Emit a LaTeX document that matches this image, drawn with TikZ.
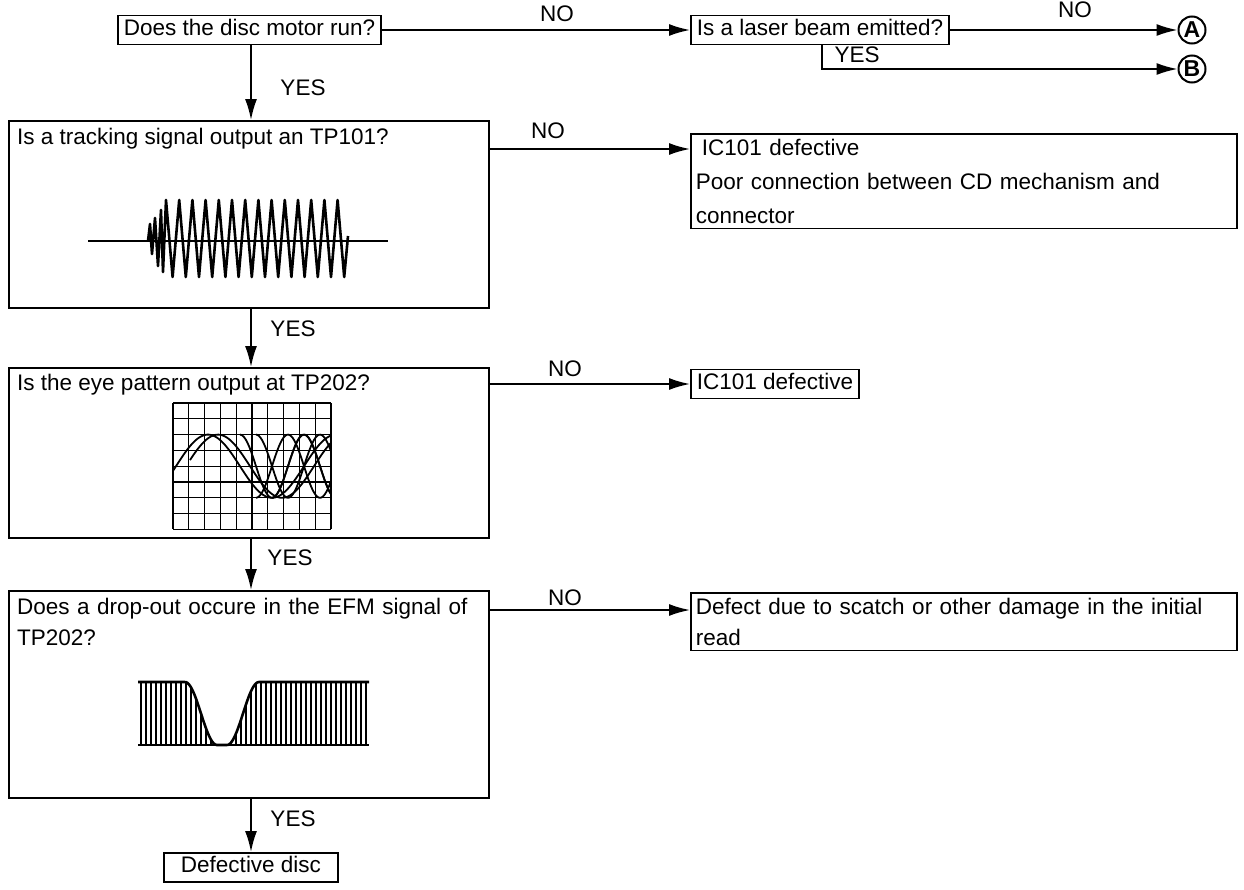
\documentclass[tikz,border=0pt]{standalone}
\usepackage{fontspec}
\setmainfont{Liberation Sans}
\usetikzlibrary{arrows.meta}

\tikzset{
  chart/.style={draw, line width=1.8pt, inner xsep=6pt, inner ysep=4pt,
    text height=16pt, text depth=5pt},
  note/.style={draw, line width=1.8pt, inner xsep=5pt, inner ysep=5pt,
    align=left, anchor=north west},
  panel/.style={draw, line width=1.8pt, minimum width=480pt,
    anchor=north west, inner sep=0pt},
  ask/.style={anchor=north west, inner sep=0pt, align=left},
  tag/.style={inner sep=0pt},
  goal/.style={circle, draw, line width=2pt, minimum size=27pt, inner sep=0pt,
    font=\fontsize{23}{26}\selectfont\bfseries},
  flow/.style={line width=1.8pt, -{Latex[length=21pt,width=12pt]}},
  trace/.style={line width=2.6pt, line join=round},
  gridline/.style={line width=1.3pt},
  hatch/.style={line width=1.4pt},
}

\begin{document}
\begin{tikzpicture}[x=1pt, y=-1pt, font=\fontsize{22.5}{31}\selectfont]
    % --- Configuration ---
    \def\boxL{8}      % left edge of the question panels
    \def\stemX{251}   % x of the YES column
    \def\noX{690}     % left edge of the NO results
    \def\cell{15.8}   % cell of the eye pattern grid

    \useasboundingbox (0,0) rectangle (1244,889);

    % --- Top row ---
    \node[chart, anchor=west] (q1) at (117,30) {Does the disc motor run?};
    \node[chart, anchor=west] (laser) at (\noX,30) {Is a laser beam emitted?};
    \node[goal] (goalA) at (1192,30) {A};
    \node[goal] (goalB) at (1192,69) {B};

    % --- Question panels ---
    \node[panel, minimum height=187pt] (trk) at (\boxL,120) {};
    \node[ask] (trkq) at (17,128) {Is a tracking signal output an TP101?};
    \node[panel, minimum height=170pt] (eye) at (\boxL,367) {};
    \node[ask] (eyeq) at (17,374) {Is the eye pattern output at TP202?};
    \node[panel, minimum height=207pt] (efm) at (\boxL,590) {};
    \node[ask, text width=464pt] (efmq) at (17,598)
        {\makebox[\hsize][s]{Does a drop-out occure in the EFM signal of}\\TP202?};

    % --- Results ---
    \node[note, text width=536pt, font=\fontsize{22.5}{34}\selectfont] (ic1) at (\noX,133)
        {\hspace*{6pt}IC101 defective\\
         \makebox[\hsize][s]{Poor connection between CD mechanism and}\\
         connector};
    \node[chart, anchor=west] (ic2) at (\noX,384) {IC101 defective};
    \node[note, text width=536pt] (dmg) at (\noX,592)
        {\makebox[\hsize][s]{Defect due to scatch or other damage in the initial}\\read};
    \node[chart, anchor=north, minimum width=174pt] (bad) at (\stemX,852) {Defective disc};

    % --- YES / NO labels ---
    \node[tag] (no1) at (557,14) {NO};
    \node[tag] (yes1) at (303,88) {YES};
    \node[tag] (no2) at (1075,10) {NO};
    \node[tag] (yes2) at (857,55) {YES};
    \node[tag] (no3) at (548,131) {NO};
    \node[tag] (yes3) at (293,329) {YES};
    \node[tag] (no4) at (565,369) {NO};
    \node[tag] (yes4) at (290,558) {YES};
    \node[tag] (no5) at (565,598) {NO};
    \node[tag] (yes5) at (293,819) {YES};

    % --- Connectors ---
    \draw[flow] (q1.east) -- (laser.west);
    \draw[flow] (laser.east) -- (goalA.west);
    \draw[flow] ([xshift=132pt]laser.south west) |- (goalB.west);
    \draw[flow] (q1.south -| bad.north) -- (trk.north -| bad.north);
    \draw[flow] ([yshift=-29pt]trk.north east) -- ([yshift=-16pt]ic1.north west);
    \draw[flow] (trk.south -| bad.north) -- (eye.north -| bad.north);
    \draw[flow] (eye.east |- ic2) -- (ic2.west);
    \draw[flow] (eye.south -| bad.north) -- (efm.north -| bad.north);
    \draw[flow] ([yshift=-20pt]efm.north east) -- ([yshift=-18pt]dmg.north west);
    \draw[flow] (efm.south -| bad.north) -- (bad.north);

    % --- Tracking signal ---
    \draw[line width=1.4pt] (88,241) -- (388,241);
    \draw[trace] (148,241) -- (150,224) -- (152,254) -- (155,218) -- (158,266)
        -- (161,210) -- (163,272)
        \foreach \k in {0,...,13} { -- ({166+13.2*\k},200) -- ({172.6+13.2*\k},277) }
        -- (348,236);

    % --- Eye pattern ---
    \foreach \i in {0,...,10} {
        \draw[gridline] ({173+\i*\cell},403) -- ({173+\i*\cell},{403+8*\cell});
    }
    \foreach \j in {0,...,8} {
        \draw[gridline] (173,{403+\j*\cell}) -- ({173+10*\cell},{403+\j*\cell});
    }
    \begin{scope}
        \clip (173,403) rectangle ({173+10*\cell},{403+8*\cell});
        \draw[trace, line width=1.8pt] plot[domain=173:331, samples=80]
            (\x, {466.2-31.6*sin(2.8125*(\x-176))});
        \draw[trace, line width=1.8pt] plot[domain=190:331, samples=70]
            (\x, {466.2-31.6*sin(2.8125*(\x-186))});
        \draw[trace, line width=1.8pt] plot[domain=240:331, samples=50]
            (\x, {466.2-31.6*cos(5.625*(\x-240))});
        \draw[trace, line width=1.8pt] plot[domain=256:331, samples=50]
            (\x, {466.2-31.6*cos(5.625*(\x-256))});
        \draw[trace, line width=1.8pt] plot[domain=256:331, samples=50]
            (\x, {466.2+31.6*cos(5.625*(\x-256))});
        \draw[trace, line width=1.8pt] plot[domain=272:331, samples=50]
            (\x, {466.2+31.6*cos(5.625*(\x-272))});
    \end{scope}

    % --- EFM signal with drop-out ---
    \foreach \x in {141,146,...,366} {
        \pgfmathsetmacro{\fa}{max(0,min(1,(\x-185)/32))}
        \pgfmathsetmacro{\fb}{max(0,min(1,(\x-227)/32))}
        \pgfmathsetmacro{\ey}{682+31.5*(1-cos(180*(\fa-\fb)))}
        \draw[hatch] (\x,745) -- (\x,\ey);
    }
    \draw[trace] plot[domain=138:369, samples=160]
        (\x, {682+31.5*(1-cos(180*(max(0,min(1,(\x-185)/32))-max(0,min(1,(\x-227)/32)))))});
    \draw[trace] (138,745) -- (369,745);

\end{tikzpicture}
\end{document}
